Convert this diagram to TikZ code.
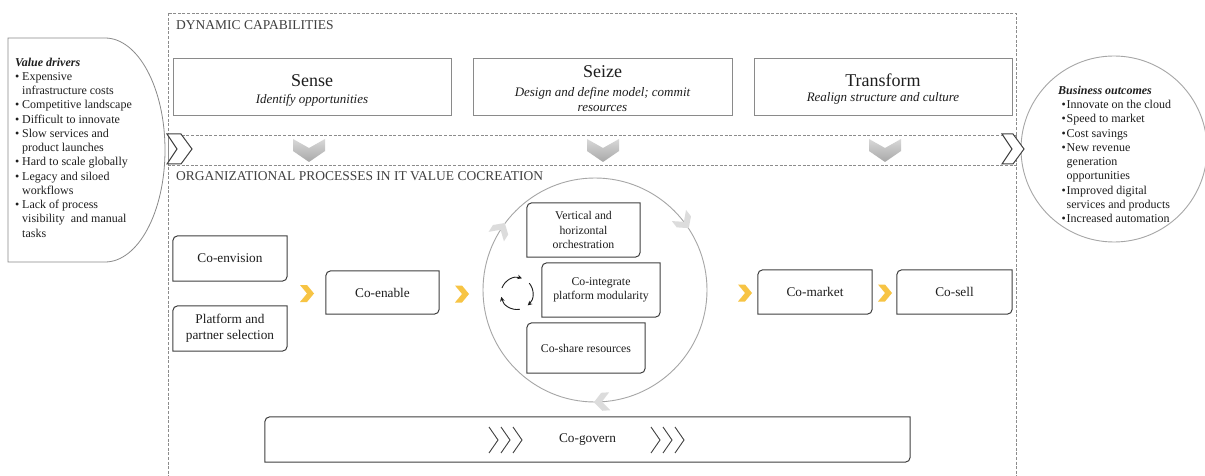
\documentclass[tikz,border=0pt]{standalone}
\usepackage{fontspec}
\setmainfont{Liberation Serif}
\usetikzlibrary{arrows.meta,calc}

\definecolor{dashgray}{HTML}{8C8C8C}
\definecolor{framegray}{HTML}{8A8A8A}
\definecolor{procgray}{HTML}{404040}
\definecolor{ringgray}{HTML}{A6A6A6}
\definecolor{chevyellow}{HTML}{F7C444}
\definecolor{chevtop}{HTML}{D8D8D8}
\definecolor{chevbot}{HTML}{A8A8A8}
\definecolor{softchev}{HTML}{DCDCDC}
\definecolor{ink}{HTML}{1E1E1E}

\newcommand\fs[2]{\fontsize{#1}{#2}\selectfont}
% list bullets and continuation indents
\newcommand\vdb{\makebox[7pt][l]{\textbullet}}
\newcommand\vdc{\hspace*{7pt}}
\newcommand\bob{\hspace*{3.5pt}\makebox[5pt][l]{\textbullet}}
\newcommand\boc{\hspace*{8.5pt}}

% outline with rounded top-left and bottom-right corners
\newcommand\diagoutline[1]{%
  \draw[procline] (#1.south west) -- ([yshift=-5pt]#1.north west)
    arc[start angle=180,end angle=90,radius=5pt] -- (#1.north east)
    -- ([yshift=5pt]#1.south east)
    arc[start angle=0,end angle=-90,radius=5pt] -- cycle;}

% filled chevrons
\newcommand\yellowchev[2]{%
  \fill[chevyellow,shift={(#1,#2)}] (-7,8.5) -- (0,8.5) -- (7,0) -- (0,-8.5) -- (-7,-8.5) -- (0,0) -- cycle;}
\newcommand\downchev[1]{%
  \shade[top color=chevtop,bottom color=chevbot,shift={(#1,0)}]
    (-16,-139) -- (0,-148) -- (16,-139) -- (16,-151) -- (0,-162) -- (-16,-151) -- cycle;}
\newcommand\ringchev[1]{%
  \fill[softchev,shift={($(ring.center)+(#1:112)$)},rotate=#1-90]
    (-7,9) -- (1,9) -- (9,0) -- (1,-9) -- (-7,-9) -- (1,0) -- cycle;}
\newcommand\openchevs[1]{%
  \foreach \dx in {0,12,24}
    \draw[procgray,line width=0.9] (#1+\dx,-427) -- (#1+\dx+9,-440) -- (#1+\dx,-453);}

\tikzset{
  procline/.style={draw=procgray,line width=1},
  capbox/.style={draw=framegray,line width=1,inner sep=0},
  proc/.style={inner sep=0,align=center,font=\fs{13.3}{16},text=ink},
  ringproc/.style={inner sep=0,align=center,font=\fs{11.8}{14.5},text=ink},
  capttl/.style={anchor=base,inner sep=0,font=\fs{18}{20},text=ink},
  capsub/.style={anchor=base,inner sep=0,font=\fs{13}{15}\itshape,text=ink},
  sectitle/.style={anchor=base west,inner sep=0,font=\fs{13.5}{16},text=ink!85},
  listtext/.style={anchor=north west,inner sep=0,align=left,font=\fs{12}{14.25},text=ink},
  dashframe/.style={draw=dashgray,line width=0.7,dash pattern=on 3pt off 1.6pt},
  bandchev/.style={fill=white,draw=procgray,line width=1},
}

\begin{document}
\begin{tikzpicture}[x=1pt,y=1pt]
\useasboundingbox[fill=white] (0,0) rectangle (1205,-476);

% dashed frames
\draw[dashframe] (168,-13) rectangle (1016,-165);
\draw[dashframe] (168,-135) -- (168,-480);
\draw[dashframe] (1016,-135) -- (1016,-480);
\draw[dashframe] (168,-135) -- (1016,-135);

% value drivers panel
\draw[framegray,line width=0.8] (8,-38) -- (105,-38)
  arc[start angle=90,end angle=-90,x radius=60,y radius=112] -- (8,-262) -- cycle;
\node[listtext] (drivers) at (15,-57.6) {%
  \textbf{\textit{Value drivers}}\\
  \vdb Expensive\\
  \vdc infrastructure costs\\
  \vdb Competitive landscape\\
  \vdb Difficult to innovate\\
  \vdb Slow services and\\
  \vdc product launches\\
  \vdb Hard to scale globally\\
  \vdb Legacy and siloed\\
  \vdc workflows\\
  \vdb Lack of process\\
  \vdc visibility\ \ and manual\\
  \vdc tasks};

% business outcomes panel
\node[draw=ringgray,line width=0.9,circle,minimum size=186pt,inner sep=0] (outcomes) at (1114,-149) {};
\node[listtext] (outtext) at (1058,-85.8) {%
  \textbf{\textit{Business outcomes}}\\
  \bob Innovate on the cloud\\
  \bob Speed to market\\
  \bob Cost savings\\
  \bob New revenue\\
  \boc generation\\
  \boc opportunities\\
  \bob Improved digital\\
  \boc services and products\\
  \bob Increased automation};

% band chevrons
\draw[bandchev] (167,-134) -- (181,-134) -- (192,-149) -- (181,-164) -- (167,-164) -- (177,-149) -- cycle;
\draw[bandchev] (1002,-134) -- (1013,-134) -- (1024,-149) -- (1013,-164) -- (1002,-164) -- (1012,-149) -- cycle;

% section titles
\node[sectitle] (dyntitle) at (176,-29.5) {DYNAMIC CAPABILITIES};
\node[sectitle] (orgtitle) at (176,-181) {ORGANIZATIONAL PROCESSES IN IT VALUE COCREATION};

% dynamic capabilities
\node[capbox,minimum width=278pt,minimum height=57pt] (sense) at (312,-87.5) {};
\node[capbox,minimum width=259pt,minimum height=57pt] (seize) at (602.5,-87.5) {};
\node[capbox,minimum width=258pt,minimum height=57pt] (transform) at (883,-87.5) {};
\node[capttl] (sensettl) at (312,-87) {Sense};
\node[capsub] (sensesub) at (312,-103.3) {Identify opportunities};
\node[capttl] (seizettl) at (602.5,-78) {Seize};
\node[capsub] (seizesuba) at (602.5,-96.7) {Design and define model; commit};
\node[capsub] (seizesubb) at (602.5,-111.5) {resources};
\node[capttl] (transttl) at (883,-87) {Transform};
\node[capsub] (transsub) at (883,-102) {Realign structure and culture};

\downchev{309}
\downchev{603}
\downchev{885}

% organizational processes
\node[proc,minimum width=114pt,minimum height=45pt] (coenv) at (230,-258.5) {Co-envision};
\node[proc,minimum width=114pt,minimum height=45pt] (platform) at (230,-328.5) {Platform and\\partner selection};
\node[proc,minimum width=113pt,minimum height=43pt] (coenable) at (382.5,-292.5) {Co-enable};
\node[draw=ringgray,line width=0.9,circle,minimum size=224pt,inner sep=0] (ring) at (595,-290) {};
\node[ringproc,minimum width=113pt,minimum height=54pt] (orch) at (583.5,-230) {Vertical and\\horizontal\\orchestration};
\node[ringproc,minimum width=118pt,minimum height=54pt] (cointeg) at (601,-290) {Co-integrate\\platform modularity};
\node[ringproc,minimum width=118pt,minimum height=50pt] (coshare) at (586,-348) {Co-share resources};
\node[proc,minimum width=114pt,minimum height=44pt] (comarket) at (815,-292) {Co-market};
\node[proc,minimum width=115pt,minimum height=44pt] (cosell) at (954.5,-292) {Co-sell};
\node[proc,minimum width=645pt,minimum height=45pt] (cogovern) at (587.5,-439.5) {Co-govern};

\diagoutline{coenv}
\diagoutline{platform}
\diagoutline{coenable}
\diagoutline{orch}
\diagoutline{cointeg}
\diagoutline{coshare}
\diagoutline{comarket}
\diagoutline{cosell}
\diagoutline{cogovern}

% flow chevrons
\yellowchev{307}{-293.5}
\yellowchev{462}{-294}
\yellowchev{745}{-293}
\yellowchev{885}{-293}

% chevrons around the ring
\ringchev{148}
\ringchev{38}
\ringchev{-86}

% cycle icon
\foreach \a in {160,40,-80}
  \draw[ink,line width=0.9,-{Stealth[length=4.5pt,width=4.5pt]}]
    ($(517,-293.5)+(\a:16)$) arc[start angle=\a,end angle=\a-88,radius=16];

% co-govern chevrons
\openchevs{489}
\openchevs{651}
\end{tikzpicture}
\end{document}
